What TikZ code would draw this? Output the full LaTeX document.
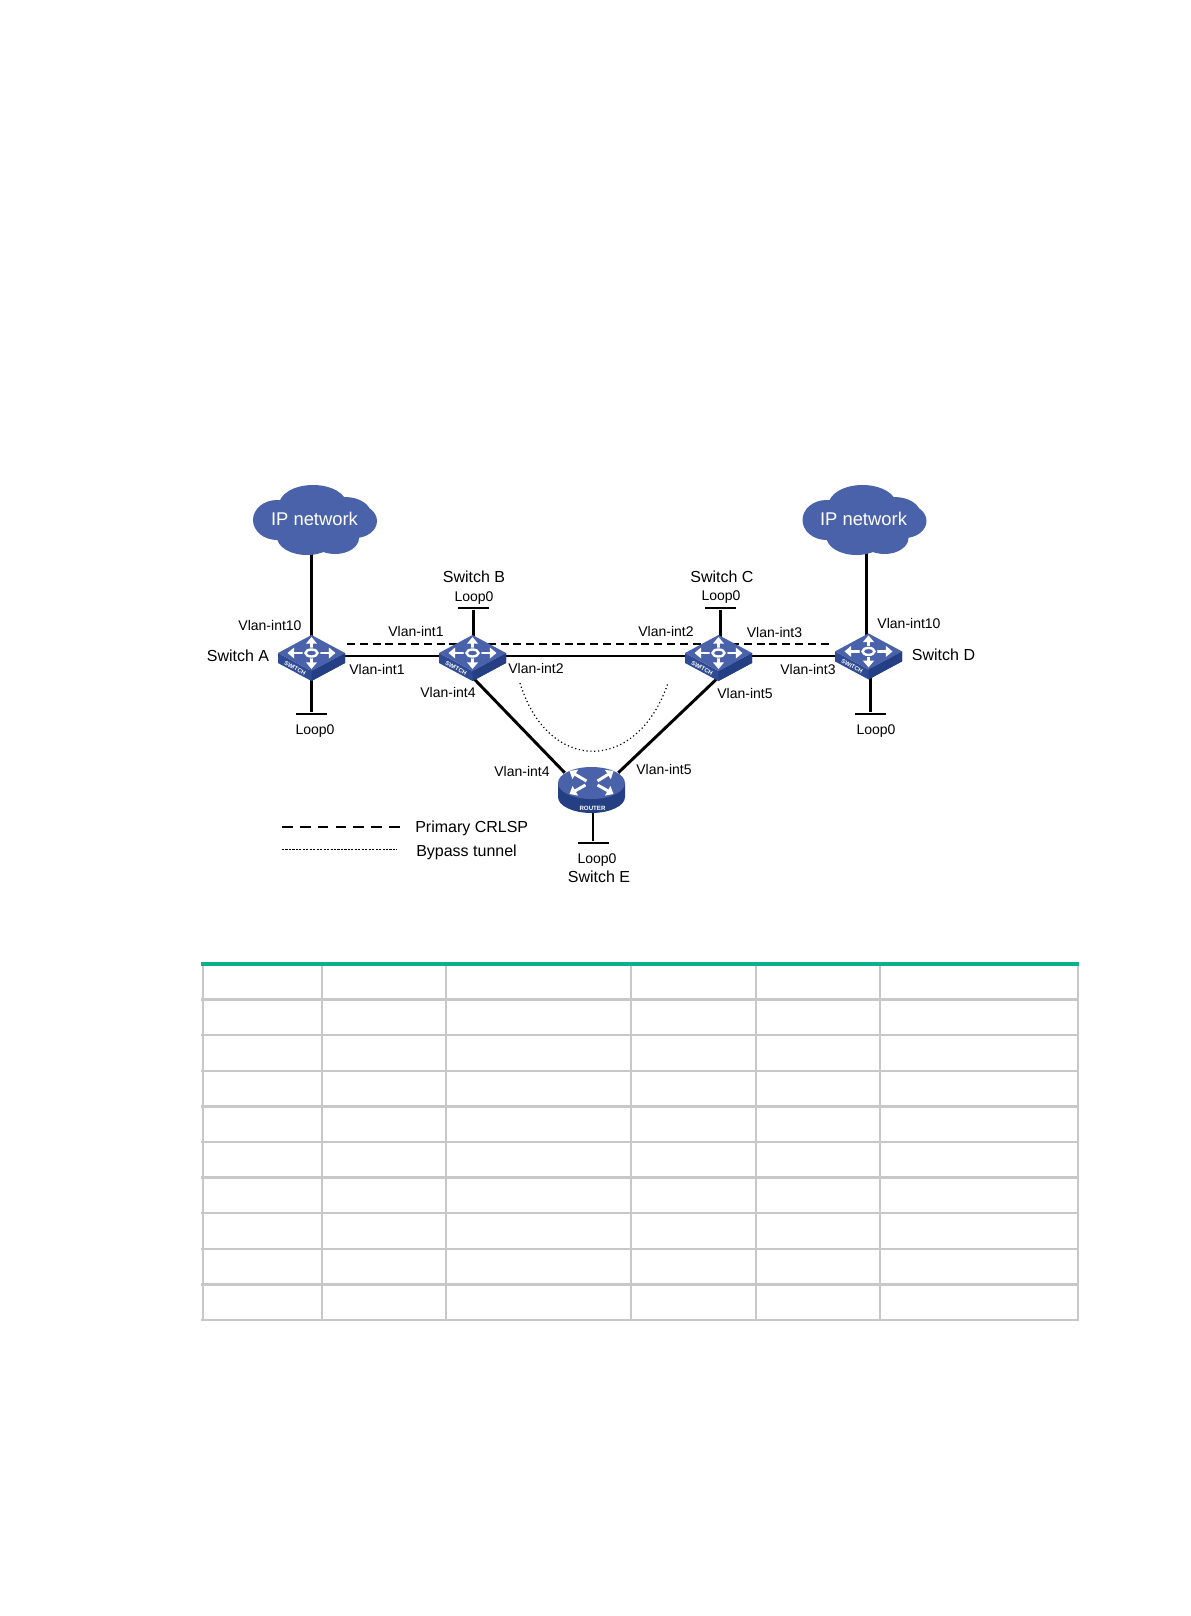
\documentclass[tikz,border=0pt]{standalone}
\usepackage{fontspec}
\setmainfont{Liberation Sans}
\usetikzlibrary{arrows.meta,backgrounds}
\definecolor{face}{HTML}{4A62AA}
\definecolor{side}{HTML}{2F4B93}
\definecolor{front}{HTML}{253F85}
\definecolor{rule}{HTML}{C8C8C8}
\definecolor{head}{HTML}{0BB08C}
\begin{document}
\begin{tikzpicture}[x=.75pt,y=-.75pt,
 lab/.style={font=\fontsize{10.5}{12}\selectfont,inner sep=0pt,text height=.72em,text depth=0pt},
 big/.style={font=\fontsize{12}{14}\selectfont,inner sep=0pt,text height=.72em,text depth=0pt},
 ip/.style={font=\fontsize{13.8}{16}\selectfont,text=white,inner sep=0pt,text height=.72em,text depth=0pt},
 swbox/.style={inner sep=0pt,minimum width=50.25pt,minimum height=31.5pt},
 rtbox/.style={inner sep=0pt,minimum width=39.75pt,minimum height=25.5pt},
 tbar/.style={fill=black,inner sep=0pt,minimum width=23.25pt,minimum height=2.2pt},
 link/.style={line width=2.2pt},
 cross/.style={white,line width=2.2pt,-{Triangle[length=5pt,width=8pt]}},
 cloudicon/.pic={\fill[face] foreach \a/\b/\c/\d in
   {0/0/45/28,-2/-15/34/20,30/-6/26/17,-38/0/24/20,40/1/22/17,-8/17/30/18,20/18/24/16}
   {(\a,\b) ellipse [x radius=\c,y radius=\d]};},
 switchicon/.pic={
  \fill[side] (-33.5,-3)--(0,15)--(33.5,-3)--(33.5,7)--(0,25)--(-33.5,7)--cycle;
  \fill[front] (0,15)--(33.5,-3)--(33.5,7)--(0,25)--cycle;
  \fill[face] (0,-21)--(33.5,-3)--(0,15)--(-33.5,-3)--cycle;
  \foreach \a/\b in {-24/-3,24/-3,0/-19,0/13} \draw[cross] (0,-3)--(\a,\b);
  \fill[face] (0,-3) ellipse [x radius=9,y radius=5.5];
  \draw[white,line width=1.8pt] (0,-3) ellipse [x radius=6,y radius=3.5];
  \node[font=\bfseries\fontsize{4.4}{5}\selectfont,text=white,inner sep=0pt,rotate=-28] (-tag) at (-16.5,12) {SWITCH};},
 routericon/.pic={
  \fill[front] (-33.5,-7)--(-33.5,7) arc [start angle=180,end angle=0,x radius=33.5,y radius=16]--(33.5,-7)--cycle;
  \fill[face] (0,-7) ellipse [x radius=33.5,y radius=16];
  \foreach \a/\b/\c/\d in {-22/-19/-5/-9,22/-19/6/-9,-22/4/-6/-5,22/4/6/-5} \draw[cross] (\c,\d)--(\a,\b);
  \node[font=\bfseries\fontsize{4.6}{5}\selectfont,text=white,inner sep=0pt] (-tag) at (1,18) {ROUTER};}]
\useasboundingbox (0,0) rectangle (1190,1616);
\node[swbox] (swA) at (311.5,656) {};
\node[swbox] (swB) at (472.5,656) {};
\node[swbox] (swC) at (718.5,656) {};
\node[swbox] (swD) at (868.5,656) {};
\node[rtbox] (swE) at (591.5,790) {};
\foreach \x in {A,B,C} \pic (ic\x) at (sw\x) {switchicon};
\pic (icD) at ([yshift=1.2pt]swD) {switchicon};
\pic (icE) at (swE) {routericon};
\pic (cloudA) at (315,520) {cloudicon};
\pic (cloudD) at (864.5,520) {cloudicon};
\node[ip] (ipA) at (314.5,520.5) {IP network};
\node[ip] (ipD) at (863.5,520.5) {IP network};
\node[tbar] (barA) at (311.5,714) {};
\node[tbar] (barB) at (473.5,608) {};
\node[tbar] (barC) at (720.5,608) {};
\node[tbar] (barD) at (870.5,714) {};
\node[tbar] (barE) at (593,843) {};
\coordinate (crL) at (347,644);
\coordinate (crR) at (830,644);
\coordinate (byL) at (520,683);
\coordinate (byR) at (668,683);
\coordinate (keyA) at (282,827);
\coordinate (keyB) at (401,827);
\coordinate (keyC) at (282,849);
\coordinate (keyD) at (397,849);
\begin{scope}[on background layer]
\foreach \x/\y in {swA/swB,swB/swC,swC/swD} \draw[link] (\x)--(\y);
\foreach \x in {A,B,C,D,E} \draw[link] (bar\x)--(bar\x |- sw\x);
\draw[link] ([xshift=-2.25pt]ipA.center)--([xshift=-2.25pt]ipA.center |- swA);
\draw[link] ([xshift=2.25pt]ipD.center)--([xshift=2.25pt]ipD.center |- swD);
\draw[link] (swB.south)--(swE.north west);
\draw[link] (swC.south)--(swE.north east);
\draw[line width=1.6pt,dash pattern=on 6pt off 3.6pt] (crL)--(crR);
\end{scope}
\draw[line width=.9pt,dotted] (byL) .. controls (548,774) and (637,774) .. (byR);
\draw[line width=2.2pt,dash pattern=on 8pt off 5.4pt] (keyA)--(keyB);
\draw[line width=.5pt,dash pattern=on 1.6pt off 1pt] (keyC)--(keyD);
\foreach \p/\t [count=\i] in {{270,626}/Vlan-int10,{416,632}/Vlan-int1,{377,670}/Vlan-int1,
 {536,669}/Vlan-int2,{448,693}/Vlan-int4,{666,632}/Vlan-int2,{774.5,633}/Vlan-int3,
 {808,670}/Vlan-int3,{745,694}/Vlan-int5,{909,624}/Vlan-int10,{522,772}/Vlan-int4,
 {664,770}/Vlan-int5,{315,730}/Loop0,{474,597}/Loop0,{721,596}/Loop0,{876,730}/Loop0,{597,859}/Loop0}
 \node[lab] (lab\i) at (\p) {\t};
\foreach \p/\t [count=\i] in {{238,657}/Switch A,{474,578}/Switch B,{722,578}/Switch C,
 {943.5,656}/Switch D,{599,878}/Switch E}
 \node[big] (name\i) at (\p) {\t};
\node[big,anchor=west] (keyP) at (415,827.5) {Primary CRLSP};
\node[big,anchor=west] (keyQ) at (416,852) {Bypass tunnel};
\foreach \y in {1,...,10} \draw[rule,line width=1.9pt] (201,964+35.6*\y)--(1079,964+35.6*\y);
\foreach \x in {203,322,446,631,756,880,1078} \draw[rule,line width=1.9pt] (\x,964)--(\x,1321);
\draw[head,line width=3.2pt] (201,964)--(1079,964);
\end{tikzpicture}
\end{document}
